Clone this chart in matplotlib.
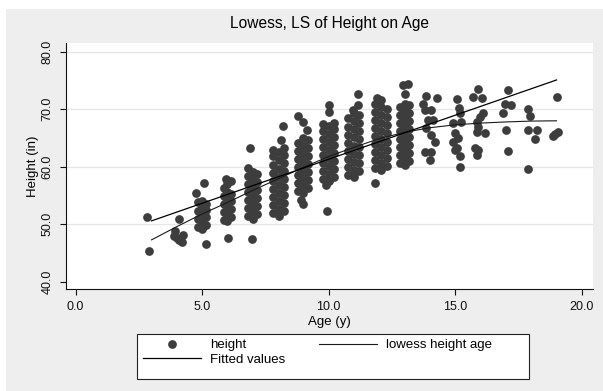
import matplotlib
matplotlib.use("Agg")
import matplotlib.pyplot as plt
from matplotlib.patches import Rectangle

# ---- data: age (years) and height (inches), grouped by year of age ----
age = [
    2.82, 2.89,
    3.92, 4.25, 4.02, 4.20, 3.88, 4.10, 4.08,
    4.74, 5.06, 5.14, 4.85, 4.85, 4.85, 4.85, 5.00, 5.00, 5.00, 5.00, 5.00, 5.15, 5.15, 5.15, 5.15,
    5.85, 5.85, 5.85, 5.85, 5.85, 6.00, 6.00, 6.00, 6.00, 6.00, 6.00, 6.15, 6.15, 6.15, 6.15, 6.15, 6.02, 5.94,
    6.82, 6.82, 6.82, 6.82, 6.82, 6.82, 6.82, 7.00, 7.00, 7.00, 7.00, 7.00, 7.00, 7.00,
    7.18, 7.18, 7.18, 7.18, 7.18, 7.18, 6.88, 6.95,
    7.80, 7.80, 7.80, 7.80, 7.80, 7.80, 7.80, 7.80, 7.80,
    8.02, 8.02, 8.02, 8.02, 8.02, 8.02, 8.02, 8.02, 8.02,
    8.25, 8.25, 8.25, 8.25, 8.25, 8.25, 8.25, 8.25, 8.25, 8.10, 8.18,
    8.80, 8.80, 8.80, 8.80, 8.80, 8.80, 8.80,
    9.00, 9.00, 9.00, 9.00, 9.00, 9.00, 9.00, 9.00,
    9.18, 9.18, 9.18, 9.18, 9.18, 9.18, 9.18, 9.15, 8.97, 8.80, 8.90, 8.97,
    9.78, 9.78, 9.78, 9.78, 9.78, 9.78, 9.78, 9.78,
    10.00, 10.00, 10.00, 10.00, 10.00, 10.00, 10.00, 10.00,
    10.22, 10.22, 10.22, 10.22, 10.22, 10.22, 10.22, 10.22, 10.02, 10.02, 9.95, 9.90,
    10.78, 10.78, 10.78, 10.78, 10.78, 10.78, 10.78, 10.78,
    11.00, 11.00, 11.00, 11.00, 11.00, 11.00, 11.00, 11.00, 11.00,
    11.20, 11.20, 11.20, 11.20, 11.20, 11.20, 11.20, 11.20, 11.17, 11.17, 10.97,
    11.82, 11.82, 11.82, 11.82, 11.82, 11.82, 11.82, 11.82, 11.82,
    12.05, 12.05, 12.05, 12.05, 12.05, 12.05, 12.05, 12.05, 12.05, 12.05,
    12.30, 12.30, 12.30, 12.30, 12.30, 12.30, 12.30, 12.30, 11.90, 11.83,
    12.82, 12.82, 12.82, 12.82, 12.82, 12.82, 12.82, 12.82,
    13.00, 13.00, 13.00, 13.00, 13.00, 13.00, 13.00, 13.00, 13.00,
    13.18, 13.18, 13.18, 13.18, 13.18, 13.18, 13.18, 13.18, 13.02, 12.95, 13.13,
    13.86, 14.26, 13.73, 13.80, 14.06, 13.93, 14.12, 13.86, 14.06, 14.19, 13.80, 14.06, 14.00,
    15.05, 15.15, 15.20, 14.91, 15.24, 15.00, 15.10, 14.91, 15.05, 15.00, 15.20, 15.20,
    15.91, 15.70, 16.04, 16.10, 15.97, 15.84, 15.90, 16.17, 15.84, 15.77, 15.90, 15.84,
    17.09, 16.96, 17.22, 16.89, 17.02, 17.09,
    17.88, 17.94, 17.88, 18.21, 18.17, 17.88,
    19.00, 18.87, 18.93, 19.06,
]
height = [
    51.2, 45.4,
    48.8, 48.1, 47.6, 47.0, 48.0, 50.9, 47.3,
    55.5, 57.2, 46.6, 49.6, 51.0, 52.4, 53.8, 49.2, 50.4, 51.7, 53.0, 54.1, 49.8, 51.2, 52.5, 53.5,
    50.8, 52.2, 53.6, 55.0, 56.4, 50.5, 51.6, 53.0, 54.3, 55.7, 57.0, 51.2, 52.6, 54.0, 55.3, 57.5, 47.6, 57.9,
    51.4, 52.8, 54.2, 55.6, 57.0, 58.4, 59.8, 51.0, 52.2, 53.5, 54.9, 56.3, 57.7, 59.1,
    51.8, 53.2, 54.6, 56.0, 57.4, 58.8, 63.2, 47.4,
    52.0, 53.4, 54.8, 56.2, 57.6, 59.0, 60.4, 61.8, 63.0,
    51.5, 52.7, 54.1, 55.5, 56.9, 58.3, 59.7, 61.1, 62.5,
    52.3, 53.7, 55.1, 56.5, 57.9, 59.3, 60.7, 62.1, 63.3, 64.7, 67.1,
    55.8, 57.2, 58.6, 60.0, 61.4, 62.8, 64.2,
    55.5, 56.7, 58.0, 59.4, 60.8, 62.2, 63.6, 65.0,
    56.3, 57.7, 59.1, 60.5, 61.9, 63.3, 64.6, 66.4, 67.8, 68.8, 54.3, 53.6,
    57.8, 59.2, 60.6, 62.0, 63.4, 64.8, 66.2, 67.4,
    57.5, 58.7, 60.1, 61.5, 62.9, 64.3, 65.7, 67.1,
    58.2, 59.6, 61.0, 62.4, 63.8, 65.2, 66.6, 67.6, 69.6, 70.7, 52.3, 56.8,
    58.6, 60.0, 61.4, 62.8, 64.2, 65.6, 67.0, 68.4,
    58.3, 59.5, 60.9, 62.3, 63.7, 65.1, 66.5, 67.9, 69.3,
    59.2, 60.6, 62.0, 63.4, 64.8, 66.2, 67.6, 69.0, 72.7, 70.7, 69.8,
    59.8, 61.2, 62.6, 64.0, 65.4, 66.8, 68.2, 69.6, 71.0,
    59.4, 60.6, 62.0, 63.4, 64.8, 66.2, 67.6, 69.0, 70.4, 71.6,
    60.2, 61.6, 63.0, 64.4, 65.8, 67.2, 68.6, 70.0, 71.9, 57.2,
    60.6, 62.0, 63.4, 64.8, 66.2, 67.6, 69.0, 70.4,
    60.3, 61.5, 62.9, 64.3, 65.7, 67.1, 68.5, 69.9, 71.0,
    61.0, 62.4, 63.8, 65.2, 66.6, 68.0, 69.4, 70.8, 72.6, 74.2, 74.4,
    72.3, 71.9, 71.0, 69.9, 69.9, 68.1, 68.1, 66.7, 65.5, 64.4, 62.6, 62.6, 61.2,
    71.8, 70.2, 69.3, 67.6, 67.8, 65.8, 65.0, 64.4, 63.3, 62.9, 61.8, 59.9,
    73.6, 72.2, 71.9, 69.3, 68.7, 67.8, 67.0, 65.8, 66.1, 63.2, 62.9, 62.1,
    73.4, 70.9, 70.7, 69.3, 66.4, 62.8,
    70.0, 68.9, 66.4, 66.4, 64.8, 59.7,
    72.1, 65.4, 65.7, 66.0,
]

# lowess smooth of height on age
lowess_age = [3, 4, 5, 6, 7, 8, 9, 10, 11, 12, 13, 14, 15, 16, 17, 18, 19]
lowess_height = [47.3, 49.6, 51.8, 53.8, 55.9, 57.9, 59.9, 61.8, 63.4, 64.9,
                 66.0, 66.8, 67.3, 67.6, 67.8, 67.95, 68.0]

# least-squares fitted values
fit_age = [3.0, 19.0]
fit_height = [50.6, 75.1]

x_ticks = [0, 5, 10, 15, 20]
x_labels = ["0.0", "5.0", "10.0", "15.0", "20.0"]
y_ticks = [40, 50, 60, 70, 80]
y_labels = ["40.0", "50.0", "60.0", "70.0", "80.0"]

plt.rcParams['font.family'] = ['Liberation Sans', 'DejaVu Sans']

W, H = 603, 391
fig = plt.figure(figsize=(W / 100, H / 100), dpi=100, facecolor='white')

# light grey graph region behind the plot
fig.add_artist(Rectangle((6 / W, 0), 1 - 6 / W, 1 - 9 / H, transform=fig.transFigure,
                         facecolor='#eeeeee', edgecolor='none', zorder=-1))

ax = fig.add_axes([66 / W, 1 - 289.3 / H, (592.7 - 66) / W, (289.3 - 42.7) / H])
ax.set_facecolor('white')

pts, = ax.plot(age, height, 'o', color='#3d3d3d', ms=6.3, mec='none', zorder=3,
               label='height')
low, = ax.plot(lowess_age, lowess_height, color='#1a1a1a', lw=0.8, zorder=4,
               label='lowess height age')
fit, = ax.plot(fit_age, fit_height, color='black', lw=0.9, zorder=4,
               label='Fitted values')

ax.set_xlim(-0.38, 20.43)
ax.set_ylim(38.7, 81.58)
ax.set_xticks(x_ticks)
ax.set_xticklabels(x_labels)
ax.set_yticks(y_ticks)
ax.set_yticklabels(y_labels)

for g in y_ticks[1:]:
    ax.axhline(g, color='#e6e6e6', lw=0.9, zorder=1)

for side in ('top', 'right'):
    ax.spines[side].set_visible(False)
for side in ('left', 'bottom'):
    ax.spines[side].set_color('#111111')
    ax.spines[side].set_linewidth(0.8)

ax.tick_params(direction='out', length=4.5, width=0.8, colors='#111111',
               labelsize=9, pad=4)
ax.tick_params(axis='y', labelrotation=90, pad=4.5)
for t in ax.get_yticklabels():
    t.set_va('center')

ax.set_xlabel('Age (y)', fontsize=9.5, va='center')
ax.xaxis.set_label_coords(0.5, (289.3 - 321.5) / 246.6)
ax.set_ylabel('Height (in)', fontsize=9.5, va='center')
ax.yaxis.set_label_coords((33.3 - 66) / 526.7, 0.5)

title = ax.set_title('Lowess, LS of Height on Age', fontsize=11.2,
                     y=(289.3 - 32.3) / 246.6)
title.set_va('center')

# legend box
fig.add_artist(Rectangle((137 / W, 1 - 379.3 / H), (529 - 137) / W, (379.3 - 334) / H,
                         transform=fig.transFigure, facecolor='white',
                         edgecolor='#222222', lw=0.8, zorder=1))
fs = 9.5
fig.legend(handles=[pts, fit, low],
           labels=['height', 'Fitted values', 'lowess height age'],
           ncol=2, loc='upper left', bbox_to_anchor=(143 / W, 1 - 339 / H),
           bbox_transform=fig.transFigure, frameon=False, borderpad=0,
           borderaxespad=0, handlelength=4.37, handletextpad=0.7,
           columnspacing=2.59, labelspacing=0.2, fontsize=fs, numpoints=1)

fig.savefig('out.png', dpi=100, facecolor='white')
